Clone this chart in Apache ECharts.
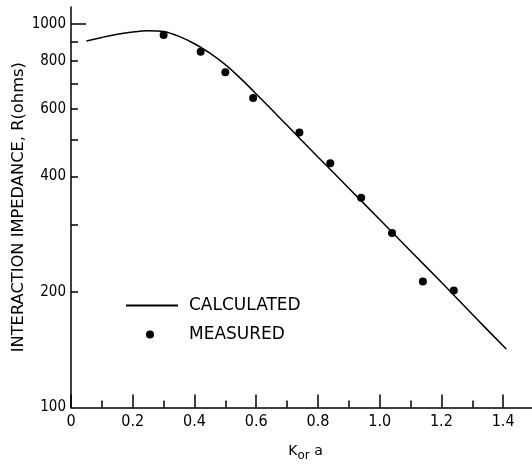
<!DOCTYPE html>
<html><head><meta charset="utf-8">
<script src="https://cdn.jsdelivr.net/npm/echarts@6/dist/echarts.min.js"></script>
<style>html,body{margin:0;padding:0;background:#fff}#c{width:532px;height:466px}</style>
</head><body><div id="c"></div>
<script>
// Calculated curve (Kor*a, R in ohms)
const calcX = [0.05,0.10,0.15,0.20,0.25,0.30,0.35,0.40,0.45,0.50,0.55,0.60,0.65,0.70,0.80,0.90,1.00,1.10,1.20,1.30,1.41];
const calcR = [903,922,940,953,960,956,928,888,839,783,720,657,598,544,450,373,309,256,212,175,142];
// Measured points
const measX = [0.30,0.42,0.50,0.59,0.74,0.84,0.94,1.04,1.14,1.24];
const measR = [936,846,748,641,521,433,352,285,213,202];
// Tick labels
const xLabels = ['0','0.2','0.4','0.6','0.8','1.0','1.2','1.4'];
const yLabels = [100,200,400,600,800,1000];
const yMinorTicks = [200,300,400,500,600,700,800,900];
const yMajorTicks = [1000];

const numFont = '"DejaVu Sans Condensed", "DejaVu Sans", sans-serif';
const txtFont = '"DejaVu Sans", sans-serif';
const chart = echarts.init(document.getElementById('c'), null, {renderer:'canvas'});
const yMin = 100, yMax = 1107;
chart.setOption({
  animation:false,
  backgroundColor:'#fff',
  grid: {left:71, top:7, width:463, height:400.5, outerBoundsMode:'none', containLabel:false},
  legend: [
    {data:[{name:'CALCULATED', icon:'rect'}], left:126, top:297, padding:0,
     itemWidth:52, itemHeight:2, selectedMode:false,
     textStyle:{fontFamily:txtFont, fontSize:17, color:'#000', padding:[0,0,0,6]}},
    {data:[{name:'MEASURED', icon:'circle'}], left:146, top:326, padding:0,
     itemWidth:8, itemHeight:8, selectedMode:false,
     textStyle:{fontFamily:txtFont, fontSize:17, color:'#000', padding:[0,0,0,30]}}
  ],
  xAxis: [
    {type:'value', min:0, max:1.5, interval:0.1, position:'bottom',
     axisLine:{show:true, onZero:false, lineStyle:{color:'#000', width:1.5}},
     axisTick:{show:true, inside:true, length:7, lineStyle:{color:'#000', width:1.5}},
     axisLabel:{show:false}, splitLine:{show:false}},
    {type:'value', min:0, max:1.5, interval:0.2, position:'bottom',
     name:'{k|K}{s|or}{a| a}', nameLocation:'middle', nameGap:34,
     nameTextStyle:{rich:{
       k:{fontFamily:txtFont, fontSize:14, color:'#000'},
       s:{fontFamily:txtFont, fontSize:12, color:'#000', verticalAlign:'top', padding:[8,0,0,0]},
       a:{fontFamily:txtFont, fontSize:14, color:'#000'}}, padding:[0,0,0,6]},
     axisLine:{show:false, onZero:false},
     axisTick:{show:true, inside:true, length:13, lineStyle:{color:'#000', width:1.5}},
     axisLabel:{show:true, margin:6, showMaxLabel:false, fontFamily:numFont, fontSize:16, color:'#000',
       formatter:function(v){ const i=Math.round(v/0.2); return (Math.abs(v-i*0.2)<1e-6 && i<xLabels.length)?xLabels[i]:''; }},
     splitLine:{show:false}}
  ],
  yAxis: [
    {type:'log', logBase:10, min:yMin, max:yMax, position:'left',
     name:'INTERACTION IMPEDANCE, R(ohms)', nameLocation:'middle', nameGap:44, nameRotate:90,
     nameMoveOverlap:false,
     nameTextStyle:{fontFamily:txtFont, fontSize:16.3, color:'#000'},
     axisLine:{show:true, onZero:false, lineStyle:{color:'#000', width:1.5}},
     axisTick:{show:true, inside:true, length:7, customValues:yMinorTicks, lineStyle:{color:'#000', width:1.5}},
     axisLabel:{show:true, margin:5, customValues:yLabels, fontFamily:numFont, fontSize:15, color:'#000',
       formatter:function(v){ return String(Math.round(v)); }},
     splitLine:{show:false}},
    {type:'log', logBase:10, min:yMin, max:yMax, position:'left',
     axisLine:{show:false, onZero:false},
     axisTick:{show:true, inside:true, length:15, customValues:yMajorTicks, lineStyle:{color:'#000', width:1.5}},
     axisLabel:{show:false}, splitLine:{show:false}}
  ],
  series: [
    {name:'CALCULATED', type:'line', xAxisIndex:0, yAxisIndex:0, showSymbol:false, smooth:0.3,
     color:'#000', lineStyle:{color:'#000', width:1.5},
     data: calcX.map((x,i)=>[x, calcR[i]])},
    {name:'MEASURED', type:'scatter', xAxisIndex:0, yAxisIndex:0, symbol:'circle', symbolSize:8,
     color:'#000', itemStyle:{color:'#000', opacity:1},
     data: measX.map((x,i)=>[x, measR[i]])}
  ]
});
</script></body></html>
